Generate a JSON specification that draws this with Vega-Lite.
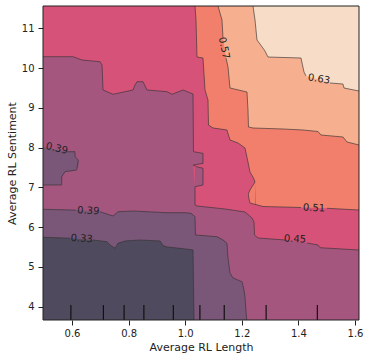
{
  "$schema": "https://vega.github.io/schema/vega-lite/v6.json",
  "width": 316,
  "height": 314,
  "autosize": {"type": "none"},
  "padding": {"left": 43, "top": 6, "right": 10, "bottom": 41},
  "config": {"font": "DejaVu Sans", "view": {"fill": "#f7dcc7", "stroke": null}},
  "datasets": {
    "lines": [
      {"lvl":"63","seg":"c63","i":0,"x":0.4975,"y":11.561},
      {"lvl":"63","seg":"63a","i":1,"x":1.2396,"y":11.561},
      {"lvl":"63","seg":"63a","i":2,"x":1.2467,"y":11.209},
      {"lvl":"63","seg":"63a","i":3,"x":1.2537,"y":10.706},
      {"lvl":"63","seg":"63a","i":4,"x":1.2643,"y":10.605},
      {"lvl":"63","seg":"63a","i":5,"x":1.2820,"y":10.429},
      {"lvl":"63","seg":"63a","i":6,"x":1.2926,"y":10.278},
      {"lvl":"63","seg":"63a","i":7,"x":1.4092,"y":10.253},
      {"lvl":"63","seg":"63a","i":8,"x":1.4198,"y":9.901},
      {"lvl":"63","seg":"63a","i":9,"x":1.4269,"y":9.801},
      {"lvl":"63","seg":"63b","i":10,"x":1.5117,"y":9.625},
      {"lvl":"63","seg":"63b","i":11,"x":1.5576,"y":9.599},
      {"lvl":"63","seg":"63b","i":12,"x":1.5612,"y":9.499},
      {"lvl":"63","seg":"63b","i":13,"x":1.6142,"y":9.423},
      {"lvl":"57","seg":"c57","i":14,"x":0.4975,"y":11.561},
      {"lvl":"57","seg":"57a","i":15,"x":1.1159,"y":11.561},
      {"lvl":"57","seg":"57a","i":16,"x":1.1301,"y":11.209},
      {"lvl":"57","seg":"57a","i":17,"x":1.1336,"y":10.756},
      {"lvl":"57","seg":"57b","i":18,"x":1.1442,"y":10.253},
      {"lvl":"57","seg":"57b","i":19,"x":1.1513,"y":10.027},
      {"lvl":"57","seg":"57b","i":20,"x":1.1583,"y":9.499},
      {"lvl":"57","seg":"57b","i":21,"x":1.2184,"y":9.398},
      {"lvl":"57","seg":"57b","i":22,"x":1.2219,"y":8.946},
      {"lvl":"57","seg":"57b","i":23,"x":1.2237,"y":8.518},
      {"lvl":"57","seg":"57b","i":24,"x":1.2396,"y":8.493},
      {"lvl":"57","seg":"57b","i":25,"x":1.3456,"y":8.468},
      {"lvl":"57","seg":"57b","i":26,"x":1.4163,"y":8.443},
      {"lvl":"57","seg":"57b","i":27,"x":1.4693,"y":8.405},
      {"lvl":"57","seg":"57b","i":28,"x":1.4799,"y":8.317},
      {"lvl":"57","seg":"57b","i":29,"x":1.5576,"y":8.267},
      {"lvl":"57","seg":"57b","i":30,"x":1.5718,"y":8.141},
      {"lvl":"57","seg":"57b","i":31,"x":1.6142,"y":8.066},
      {"lvl":"51","seg":"c51","i":32,"x":0.4975,"y":11.561},
      {"lvl":"51","seg":"51a","i":33,"x":1.0347,"y":11.561},
      {"lvl":"51","seg":"51a","i":34,"x":1.0382,"y":11.209},
      {"lvl":"51","seg":"51a","i":35,"x":1.0417,"y":10.278},
      {"lvl":"51","seg":"51a","i":36,"x":1.0629,"y":10.253},
      {"lvl":"51","seg":"51a","i":37,"x":1.0700,"y":9.449},
      {"lvl":"51","seg":"51a","i":38,"x":1.0806,"y":9.197},
      {"lvl":"51","seg":"51a","i":39,"x":1.0824,"y":8.568},
      {"lvl":"51","seg":"51a","i":40,"x":1.0983,"y":8.493},
      {"lvl":"51","seg":"51a","i":41,"x":1.1477,"y":8.443},
      {"lvl":"51","seg":"51a","i":42,"x":1.1583,"y":8.191},
      {"lvl":"51","seg":"51a","i":43,"x":1.1866,"y":8.116},
      {"lvl":"51","seg":"51a","i":44,"x":1.2113,"y":7.990},
      {"lvl":"51","seg":"51a","i":45,"x":1.2219,"y":7.638},
      {"lvl":"51","seg":"51a","i":46,"x":1.2290,"y":7.387},
      {"lvl":"51","seg":"51a","i":47,"x":1.2414,"y":7.236},
      {"lvl":"51","seg":"51a","i":48,"x":1.2467,"y":7.135},
      {"lvl":"51","seg":"51a","u":"L","i":48.1,"x":1.2290,"y":6.934},
      {"lvl":"51","seg":"51a","u":"L","i":48.2,"x":1.2230,"y":6.833},
      {"lvl":"51","seg":"51a","u":"L","i":48.3,"x":1.2255,"y":6.708},
      {"lvl":"51","seg":"51a","u":"L","i":48.4,"x":1.2290,"y":6.607},
      {"lvl":"51","seg":"51a","u":"A","i":49,"x":1.2502,"y":6.569},
      {"lvl":"51","seg":"51a","i":51,"x":1.2749,"y":6.519},
      {"lvl":"51","seg":"51a","i":52,"x":1.4092,"y":6.494},
      {"lvl":"51","seg":"51b","i":53,"x":1.5011,"y":6.474},
      {"lvl":"51","seg":"51b","i":54,"x":1.6142,"y":6.431},
      {"lvl":"45","seg":"45a","i":55,"x":0.4975,"y":10.286},
      {"lvl":"45","seg":"45a","i":56,"x":0.6036,"y":10.286},
      {"lvl":"45","seg":"45a","i":57,"x":0.6354,"y":10.203},
      {"lvl":"45","seg":"45a","i":58,"x":0.6990,"y":10.160},
      {"lvl":"45","seg":"45a","i":59,"x":0.7060,"y":10.077},
      {"lvl":"45","seg":"45a","i":60,"x":0.7096,"y":9.449},
      {"lvl":"45","seg":"45a","i":61,"x":0.7449,"y":9.340},
      {"lvl":"45","seg":"45a","i":62,"x":0.8156,"y":9.449},
      {"lvl":"45","seg":"45a","i":63,"x":0.8226,"y":9.574},
      {"lvl":"45","seg":"45a","i":64,"x":0.8297,"y":9.657},
      {"lvl":"45","seg":"45a","i":65,"x":0.8509,"y":9.657},
      {"lvl":"45","seg":"45a","i":66,"x":0.8650,"y":9.449},
      {"lvl":"45","seg":"45a","i":67,"x":0.9357,"y":9.406},
      {"lvl":"45","seg":"45a","i":68,"x":0.9534,"y":9.340},
      {"lvl":"45","seg":"45a","i":69,"x":0.9923,"y":9.449},
      {"lvl":"45","seg":"45a","i":70,"x":1.0276,"y":9.348},
      {"lvl":"45","seg":"45a","u":"L","i":70.1,"x":1.0293,"y":7.897},
      {"lvl":"45","seg":"45a","u":"L","i":70.2,"x":1.0629,"y":7.855},
      {"lvl":"45","seg":"45a","u":"L","i":70.3,"x":1.0629,"y":7.603},
      {"lvl":"45","seg":"45a","u":"L","i":70.4,"x":1.0280,"y":7.561},
      {"lvl":"45","seg":"45a","u":"L","i":70.5,"x":1.0407,"y":7.519},
      {"lvl":"45","seg":"45a","u":"L","i":70.6,"x":1.0629,"y":7.480},
      {"lvl":"45","seg":"45a","u":"L","i":70.7,"x":1.0629,"y":7.060},
      {"lvl":"45","seg":"45a","u":"L","i":70.8,"x":1.0347,"y":7.017},
      {"lvl":"45","seg":"45a","u":"L","i":70.9,"x":1.0347,"y":6.557},
      {"lvl":"45","seg":"45a","u":"A","i":71,"x":1.0280,"y":7.560},
      {"lvl":"45","seg":"45a","u":"A","i":72,"x":1.0347,"y":7.000},
      {"lvl":"45","seg":"45a","u":"A","i":73,"x":1.0352,"y":6.557},
      {"lvl":"45","seg":"45a","i":74,"x":1.0417,"y":6.532},
      {"lvl":"45","seg":"45a","i":75,"x":1.1407,"y":6.456},
      {"lvl":"45","seg":"45a","i":76,"x":1.2113,"y":6.381},
      {"lvl":"45","seg":"45a","i":77,"x":1.2361,"y":6.230},
      {"lvl":"45","seg":"45a","i":78,"x":1.2431,"y":6.129},
      {"lvl":"45","seg":"45a","i":79,"x":1.2449,"y":5.803},
      {"lvl":"45","seg":"45a","i":80,"x":1.2573,"y":5.727},
      {"lvl":"45","seg":"45a","i":81,"x":1.3527,"y":5.677},
      {"lvl":"45","seg":"45b","i":82,"x":1.4304,"y":5.602},
      {"lvl":"45","seg":"45b","i":83,"x":1.4693,"y":5.551},
      {"lvl":"45","seg":"45b","i":84,"x":1.4764,"y":5.483},
      {"lvl":"45","seg":"45b","i":85,"x":1.6142,"y":5.425},
      {"lvl":"39","seg":"39a","i":86,"x":0.4975,"y":6.449},
      {"lvl":"39","seg":"39a","i":87,"x":0.6000,"y":6.431},
      {"lvl":"39","seg":"39a","i":88,"x":0.6141,"y":6.428},
      {"lvl":"39","seg":"39b","i":89,"x":0.6990,"y":6.388},
      {"lvl":"39","seg":"39b","i":90,"x":0.7449,"y":6.280},
      {"lvl":"39","seg":"39b","i":91,"x":0.7626,"y":6.388},
      {"lvl":"39","seg":"39b","i":92,"x":0.8156,"y":6.406},
      {"lvl":"39","seg":"39b","i":93,"x":0.9357,"y":6.363},
      {"lvl":"39","seg":"39b","i":94,"x":0.9993,"y":6.363},
      {"lvl":"39","seg":"39b","i":95,"x":1.0205,"y":6.348},
      {"lvl":"39","seg":"39b","i":96,"x":1.0347,"y":6.263},
      {"lvl":"39","seg":"39b","i":97,"x":1.0364,"y":5.803},
      {"lvl":"39","seg":"39b","i":98,"x":1.1124,"y":5.760},
      {"lvl":"39","seg":"39b","i":99,"x":1.1336,"y":5.677},
      {"lvl":"39","seg":"39b","i":100,"x":1.1477,"y":5.594},
      {"lvl":"39","seg":"39b","i":101,"x":1.1513,"y":5.224},
      {"lvl":"39","seg":"39b","i":102,"x":1.1583,"y":4.847},
      {"lvl":"39","seg":"39b","i":103,"x":1.1689,"y":4.721},
      {"lvl":"39","seg":"39b","i":104,"x":1.2007,"y":4.628},
      {"lvl":"39","seg":"39b","i":105,"x":1.2078,"y":4.420},
      {"lvl":"39","seg":"39b","i":106,"x":1.2113,"y":4.244},
      {"lvl":"39","seg":"39b","i":107,"x":1.2173,"y":3.665},
      {"lvl":"isl","seg":"39c","i":108,"x":0.5813,"y":7.897},
      {"lvl":"isl","seg":"39c","i":109,"x":0.6106,"y":7.897},
      {"lvl":"isl","seg":"39c","i":110,"x":0.6113,"y":7.771},
      {"lvl":"isl","seg":"39c","i":111,"x":0.6223,"y":7.688},
      {"lvl":"isl","seg":"39c","i":112,"x":0.6166,"y":7.437},
      {"lvl":"isl","seg":"39c","i":113,"x":0.5753,"y":7.394},
      {"lvl":"isl","seg":"39c","i":114,"x":0.5636,"y":7.269},
      {"lvl":"isl","seg":"39c","i":115,"x":0.5636,"y":7.060},
      {"lvl":"isl","seg":"39c","i":116,"x":0.4975,"y":7.060},
      {"lvl":"33","seg":"33a","i":117,"x":0.4975,"y":5.745},
      {"lvl":"33","seg":"33a","i":118,"x":0.5929,"y":5.722},
      {"lvl":"33","seg":"33b","i":119,"x":0.6742,"y":5.677},
      {"lvl":"33","seg":"33b","i":120,"x":0.7237,"y":5.634},
      {"lvl":"33","seg":"33b","i":121,"x":0.7343,"y":5.551},
      {"lvl":"33","seg":"33b","i":122,"x":0.7520,"y":5.468},
      {"lvl":"33","seg":"33b","i":123,"x":0.7626,"y":5.594},
      {"lvl":"33","seg":"33b","i":124,"x":0.7873,"y":5.652},
      {"lvl":"33","seg":"33b","i":125,"x":0.8403,"y":5.677},
      {"lvl":"33","seg":"33b","i":126,"x":0.9110,"y":5.652},
      {"lvl":"33","seg":"33b","i":127,"x":0.9216,"y":5.538},
      {"lvl":"33","seg":"33b","i":128,"x":0.9357,"y":5.501},
      {"lvl":"33","seg":"33b","i":129,"x":0.9817,"y":5.468},
      {"lvl":"33","seg":"33b","i":130,"x":1.0276,"y":5.425},
      {"lvl":"33","seg":"33b","i":131,"x":1.0311,"y":3.665}
    ],
    "patches": [
      {"p":"isl","x":0.4975,"y":8.023,"lo":7.060},
      {"p":"isl","x":0.5612,"y":7.927,"lo":7.060},
      {"p":"isl","x":0.5647,"y":7.922,"lo":7.261},
      {"p":"isl","x":0.5753,"y":7.902,"lo":7.394},
      {"p":"isl","x":0.5930,"y":7.897,"lo":7.407},
      {"p":"isl","x":0.6099,"y":7.897,"lo":7.424},
      {"p":"isl","x":0.6113,"y":7.771,"lo":7.430},
      {"p":"isl","x":0.6223,"y":7.688,"lo":7.512},
      {"p":"isl","x":0.6233,"y":7.600,"lo":7.600},
      {"p":"n51","x":1.2230,"y":6.833,"lo":6.833},
      {"p":"n51","x":1.2255,"y":6.876,"lo":6.708},
      {"p":"n51","x":1.2290,"y":6.934,"lo":6.607},
      {"p":"n51","x":1.2467,"y":7.135,"lo":6.573},
      {"p":"b45a","x":1.0280,"y":7.897,"lo":7.561},
      {"p":"b45a","x":1.0629,"y":7.855,"lo":7.603},
      {"p":"b45b","x":1.0347,"y":7.519,"lo":7.017},
      {"p":"b45b","x":1.0629,"y":7.480,"lo":7.060}
    ],
    "labels": [
      {"id":"l63","t":"0.63","x":1.4728,"y":9.725},
      {"id":"l57","t":"0.57","x":1.1371,"y":10.505},
      {"id":"l51","t":"0.51","x":1.4551,"y":6.481},
      {"id":"l45","t":"0.45","x":1.3880,"y":5.702},
      {"id":"l39","t":"0.39","x":0.6576,"y":6.411},
      {"id":"l33","t":"0.33","x":0.6343,"y":5.710},
      {"id":"l39b","t":"0.39","x":0.5460,"y":7.978}
    ]
  },
  "layer": [
    {"data": {"name": "lines"}, "transform": [{"filter": "datum.lvl == '63'"}],
     "mark": {"type": "area", "orient": "vertical", "color": "#f7b08f", "clip": true},
     "encoding": {
       "x": {
         "field": "x", "type": "quantitative", "title": "Average RL Length",
         "scale": {"domain": [0.4975, 1.6142], "nice": false, "zero": false},
         "axis": {"values": [0.6, 0.8, 1.0, 1.2, 1.4, 1.6], "format": ".1f",
           "grid": false, "domain": false, "tickSize": 5, "tickColor": "#222", "tickWidth": 1,
           "labelFontSize": 10, "labelColor": "#222", "labelPadding": 3,
           "titleFontSize": 11, "titleFontWeight": "normal", "titleColor": "#222", "titlePadding": 3, "zindex": 1}
       },
       "y": {
         "field": "y", "type": "quantitative", "title": "Average RL Sentiment",
         "scale": {"domain": [3.665, 11.561], "nice": false, "zero": false},
         "axis": {"values": [4, 5, 6, 7, 8, 9, 10, 11], "format": "d",
           "grid": false, "domain": false, "tickSize": 5, "tickColor": "#222", "tickWidth": 1,
           "labelFontSize": 10, "labelColor": "#222", "labelPadding": 4,
           "titleFontSize": 11, "titleFontWeight": "normal", "titleColor": "#222", "titlePadding": 4, "zindex": 1}
       },
       "y2": {"datum": 3.665}}},
    {"data": {"name": "lines"}, "transform": [{"filter": "datum.lvl == '57' && datum.u != 'L'"}],
     "mark": {"type": "area", "orient": "vertical", "color": "#f17f6c", "clip": true},
     "encoding": {"x": {"field": "x", "type": "quantitative", "title": "Average RL Length"}, "y": {"field": "y", "type": "quantitative", "title": "Average RL Sentiment"}, "y2": {"datum": 3.665}}},
    {"data": {"name": "lines"}, "transform": [{"filter": "datum.lvl == '51' && datum.u != 'L'"}],
     "mark": {"type": "area", "orient": "vertical", "color": "#d75279", "clip": true},
     "encoding": {"x": {"field": "x", "type": "quantitative", "title": "Average RL Length"}, "y": {"field": "y", "type": "quantitative", "title": "Average RL Sentiment"}, "y2": {"datum": 3.665}}},
    {"data": {"name": "patches"}, "transform": [{"filter": "datum.p == 'n51'"}],
     "mark": {"type": "area", "orient": "vertical", "color": "#f17f6c", "clip": true},
     "encoding": {"x": {"field": "x", "type": "quantitative", "title": "Average RL Length"}, "y": {"field": "y", "type": "quantitative", "title": "Average RL Sentiment"}, "y2": {"field": "lo"}}},
    {"data": {"name": "lines"}, "transform": [{"filter": "datum.lvl == '45' && datum.u != 'L'"}],
     "mark": {"type": "area", "orient": "vertical", "color": "#a5567f", "clip": true},
     "encoding": {"x": {"field": "x", "type": "quantitative", "title": "Average RL Length"}, "y": {"field": "y", "type": "quantitative", "title": "Average RL Sentiment"}, "y2": {"datum": 3.665}}},
    {"data": {"name": "patches"}, "transform": [{"filter": "datum.p == 'b45a' || datum.p == 'b45b'"}],
     "mark": {"type": "area", "orient": "vertical", "color": "#a5567f", "clip": true},
     "encoding": {"x": {"field": "x", "type": "quantitative", "title": "Average RL Length"}, "y": {"field": "y", "type": "quantitative", "title": "Average RL Sentiment"}, "y2": {"field": "lo"}, "detail": {"field": "p"}}},
    {"data": {"name": "lines"}, "transform": [{"filter": "datum.lvl == '39' && datum.u != 'L'"}],
     "mark": {"type": "area", "orient": "vertical", "color": "#7a5678", "clip": true},
     "encoding": {"x": {"field": "x", "type": "quantitative", "title": "Average RL Length"}, "y": {"field": "y", "type": "quantitative", "title": "Average RL Sentiment"}, "y2": {"datum": 3.665}}},
    {"data": {"name": "patches"}, "transform": [{"filter": "datum.p == 'isl'"}],
     "mark": {"type": "area", "orient": "vertical", "color": "#7a5678", "clip": true},
     "encoding": {"x": {"field": "x", "type": "quantitative", "title": "Average RL Length"}, "y": {"field": "y", "type": "quantitative", "title": "Average RL Sentiment"}, "y2": {"field": "lo"}}},
    {"data": {"name": "lines"}, "transform": [{"filter": "datum.lvl == '33' && datum.u != 'L'"}],
     "mark": {"type": "area", "orient": "vertical", "color": "#504a5e", "clip": true},
     "encoding": {"x": {"field": "x", "type": "quantitative", "title": "Average RL Length"}, "y": {"field": "y", "type": "quantitative", "title": "Average RL Sentiment"}, "y2": {"datum": 3.665}}},
    {"data": {"name": "lines"}, "transform": [{"filter": "datum.u != 'A'"}],
     "mark": {"type": "line", "color": "#333333", "strokeWidth": 0.8, "opacity": 0.8, "clip": true},
     "encoding": {"x": {"field": "x", "type": "quantitative", "title": "Average RL Length"}, "y": {"field": "y", "type": "quantitative", "title": "Average RL Sentiment"}, "detail": {"field": "seg"}, "order": {"field": "i"}}},
    {"data": {"name": "labels"}, "transform": [{"filter": "datum.id == 'l63'"}],
     "mark": {"type": "text", "fontSize": 10, "color": "#222", "angle": 9, "align": "center", "baseline": "middle"},
     "encoding": {"x": {"field": "x", "type": "quantitative", "title": "Average RL Length"}, "y": {"field": "y", "type": "quantitative", "title": "Average RL Sentiment"}, "text": {"field": "t"}}},
    {"data": {"name": "labels"}, "transform": [{"filter": "datum.id == 'l57'"}],
     "mark": {"type": "text", "fontSize": 10, "color": "#222", "angle": 78, "align": "center", "baseline": "middle"},
     "encoding": {"x": {"field": "x", "type": "quantitative", "title": "Average RL Length"}, "y": {"field": "y", "type": "quantitative", "title": "Average RL Sentiment"}, "text": {"field": "t"}}},
    {"data": {"name": "labels"}, "transform": [{"filter": "datum.id == 'l51' || datum.id == 'l45' || datum.id == 'l39' || datum.id == 'l33'"}],
     "mark": {"type": "text", "fontSize": 10, "color": "#222", "angle": 3, "align": "center", "baseline": "middle"},
     "encoding": {"x": {"field": "x", "type": "quantitative", "title": "Average RL Length"}, "y": {"field": "y", "type": "quantitative", "title": "Average RL Sentiment"}, "text": {"field": "t"}}},
    {"data": {"name": "labels"}, "transform": [{"filter": "datum.id == 'l39b'"}],
     "mark": {"type": "text", "fontSize": 10, "color": "#222", "angle": 14, "align": "center", "baseline": "middle"},
     "encoding": {"x": {"field": "x", "type": "quantitative", "title": "Average RL Length"}, "y": {"field": "y", "type": "quantitative", "title": "Average RL Sentiment"}, "text": {"field": "t"}}},
    {"data": {"values": [{"q":0.596},{"q":0.711},{"q":0.784},{"q":0.854},{"q":0.958},{"q":1.052},{"q":1.138},{"q":1.286},{"q":1.467}]},
     "mark": {"type": "rule", "color": "#111111", "strokeWidth": 1.2},
     "encoding": {"x": {"field": "q", "type": "quantitative", "title": "Average RL Length"}, "y": {"datum": 4.04}, "y2": {"datum": 3.665}}},
    {"data": {"values": [{}]},
     "mark": {"type": "rect", "fillOpacity": 0, "stroke": "#222", "strokeWidth": 1},
     "encoding": {"x": {"datum": 0.4975}, "x2": {"datum": 1.6142}, "y": {"datum": 3.665}, "y2": {"datum": 11.561}}}
  ]
}
